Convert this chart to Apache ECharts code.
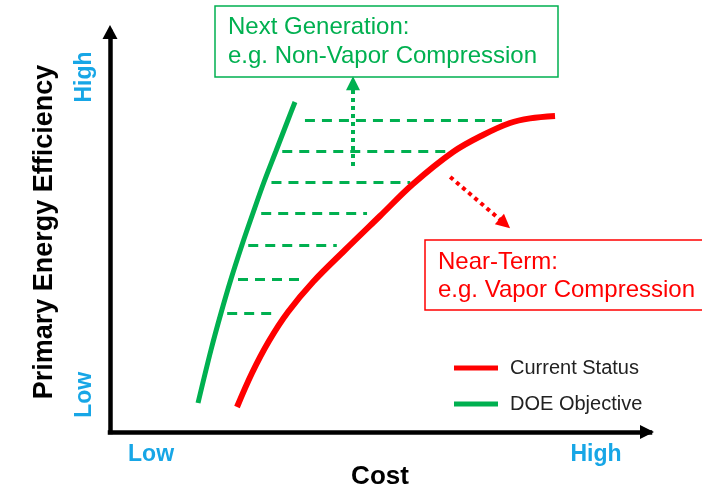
<!DOCTYPE html>
<html>
<head>
<meta charset="utf-8">
<script src="https://cdn.jsdelivr.net/npm/echarts@6/dist/echarts.min.js"></script>
<style>
  html, body { margin: 0; padding: 0; background: #fff; }
  #chart { width: 702px; height: 488px; }
</style>
</head>
<body>
<div id="chart"></div>
<script>
// Relative scale 0–10 on both axes: cost (x) and primary energy efficiency (y)
const currentCost = [2.352, 2.630, 2.944, 3.296, 3.759, 4.352, 5.0, 5.611, 6.352, 6.907, 7.407, 7.778, 8.241];
const currentEff  = [0.625, 1.475, 2.275, 3.0, 3.75, 4.55, 5.4, 6.2, 7.0, 7.425, 7.725, 7.84, 7.9];
const objectiveCost = [1.630, 1.870, 2.056, 2.241, 2.444, 2.648, 2.852, 3.074, 3.296, 3.426];
const objectiveEff  = [0.725, 2.05, 2.975, 3.825, 4.675, 5.475, 6.25, 7.025, 7.8, 8.25];

// Cost gap between the two curves at several efficiency levels
const gapLevels = [7.8, 7.025, 6.25, 5.475, 4.675, 3.825, 2.975];
const gapFrom   = [3.61, 3.19, 2.99, 2.80, 2.56, 2.37, 2.17];
const gapTo     = [7.28, 6.24, 5.56, 4.76, 4.20, 3.52, 3.00];

// Direction arrows [start, end]
const nextGenArrow  = [[4.5, 6.65], [4.5, 8.72]];
const nearTermArrow = [[6.30, 6.375], [7.31, 5.21]];

// Axis end labels
const xTicks = [0.76, 9.0];
const xTickLabels = ['Low', 'High'];
const yTicks = [0.93, 8.875];
const yTickLabels = ['Low', 'High'];

const FONT = '"Liberation Sans", Arial, sans-serif';
const RED = '#FF0000';
const GREEN = '#00B050';
const BLUE = '#17A6E6';

const zip = (xs, ys) => xs.map((x, i) => [x, ys[i]]);

const chart = echarts.init(document.getElementById('chart'), null, { renderer: 'canvas' });

chart.setOption({
  animation: false,
  backgroundColor: '#fff',
  textStyle: { fontFamily: FONT },
  grid: { left: 110, top: 32, width: 540, height: 400, containLabel: false, outerBoundsMode: 'none' },
  title: [
    {
      text: 'Next Generation:\ne.g. Non-Vapor Compression',
      left: 215, top: 6,
      padding: [7, 21, 6, 13],
      borderColor: GREEN, borderWidth: 1.5,
      textStyle: { color: GREEN, fontSize: 24, fontWeight: 'normal', lineHeight: 29, fontFamily: FONT }
    },
    {
      text: 'Near-Term:\ne.g. Vapor Compression',
      left: 425, top: 240,
      padding: [8, 30, 6, 13],
      borderColor: RED, borderWidth: 1.5,
      textStyle: { color: RED, fontSize: 24, fontWeight: 'normal', lineHeight: 28, fontFamily: FONT }
    }
  ],
  legend: {
    data: ['Current Status', 'DOE Objective'],
    orient: 'vertical',
    left: 449, top: 353,
    icon: 'rect',
    itemWidth: 44, itemHeight: 5,
    itemGap: 16,
    selectedMode: false,
    textStyle: { fontSize: 20, color: '#222', fontFamily: FONT, padding: [0, 0, 0, 7] }
  },
  xAxis: {
    type: 'value', min: 0, max: 10,
    name: 'Cost', nameLocation: 'middle', nameGap: 32, nameMoveOverlap: false,
    nameTextStyle: { fontSize: 26, fontWeight: 'bold', color: '#000', fontFamily: FONT },
    splitLine: { show: false },
    axisTick: { show: false },
    axisLine: {
      show: true, onZero: false,
      symbol: ['none', 'triangle'], symbolSize: [14, 14], symbolOffset: [0, -3],
      lineStyle: { color: '#000', width: 4.5, cap: 'square' }
    },
    axisLabel: {
      customValues: xTicks,
      formatter: v => xTickLabels[xTicks.indexOf(v)],
      margin: 11,
      color: BLUE, fontSize: 23, fontWeight: 'bold', fontFamily: FONT
    }
  },
  yAxis: {
    type: 'value', min: 0, max: 10,
    name: 'Primary Energy Efficiency', nameLocation: 'middle', nameGap: 52, nameMoveOverlap: false,
    nameTextStyle: { fontSize: 27, fontWeight: 'bold', color: '#000', fontFamily: FONT },
    splitLine: { show: false },
    axisTick: { show: false },
    axisLine: {
      show: true, onZero: false,
      symbol: ['none', 'triangle'], symbolSize: [15, 14],
      lineStyle: { color: '#000', width: 4.5, cap: 'square' }
    },
    axisLabel: {
      customValues: yTicks,
      formatter: v => yTickLabels[yTicks.indexOf(v)],
      rotate: 90,
      margin: 14,
      color: BLUE, fontSize: 23, fontWeight: 'bold', fontFamily: FONT
    }
  },
  series: [
    {
      name: 'Gap',
      type: 'lines',
      coordinateSystem: 'cartesian2d',
      silent: true,
      lineStyle: { color: GREEN, width: 3, type: [10, 7], opacity: 1 },
      data: gapLevels.map((y, i) => ({ coords: [[gapFrom[i], y], [gapTo[i], y]] }))
    },
    {
      name: 'Current Status',
      type: 'line',
      smooth: 0.35,
      showSymbol: false,
      color: RED,
      lineStyle: { color: RED, width: 6 },
      data: zip(currentCost, currentEff)
    },
    {
      name: 'DOE Objective',
      type: 'line',
      smooth: 0.35,
      showSymbol: false,
      color: GREEN,
      lineStyle: { color: GREEN, width: 5 },
      data: zip(objectiveCost, objectiveEff)
    },
    {
      name: 'Next Generation Arrow',
      type: 'lines',
      coordinateSystem: 'cartesian2d',
      silent: true,
      symbol: ['none', 'triangle'], symbolSize: 14,
      lineStyle: { color: GREEN, width: 4, type: [4, 4], opacity: 1 },
      data: [{ coords: nextGenArrow }]
    },
    {
      name: 'Near-Term Arrow',
      type: 'lines',
      coordinateSystem: 'cartesian2d',
      silent: true,
      symbol: ['none', 'triangle'], symbolSize: 14,
      lineStyle: { color: RED, width: 4, type: [4, 4], opacity: 1 },
      data: [{ coords: nearTermArrow }]
    }
  ]
});
</script>
</body>
</html>
